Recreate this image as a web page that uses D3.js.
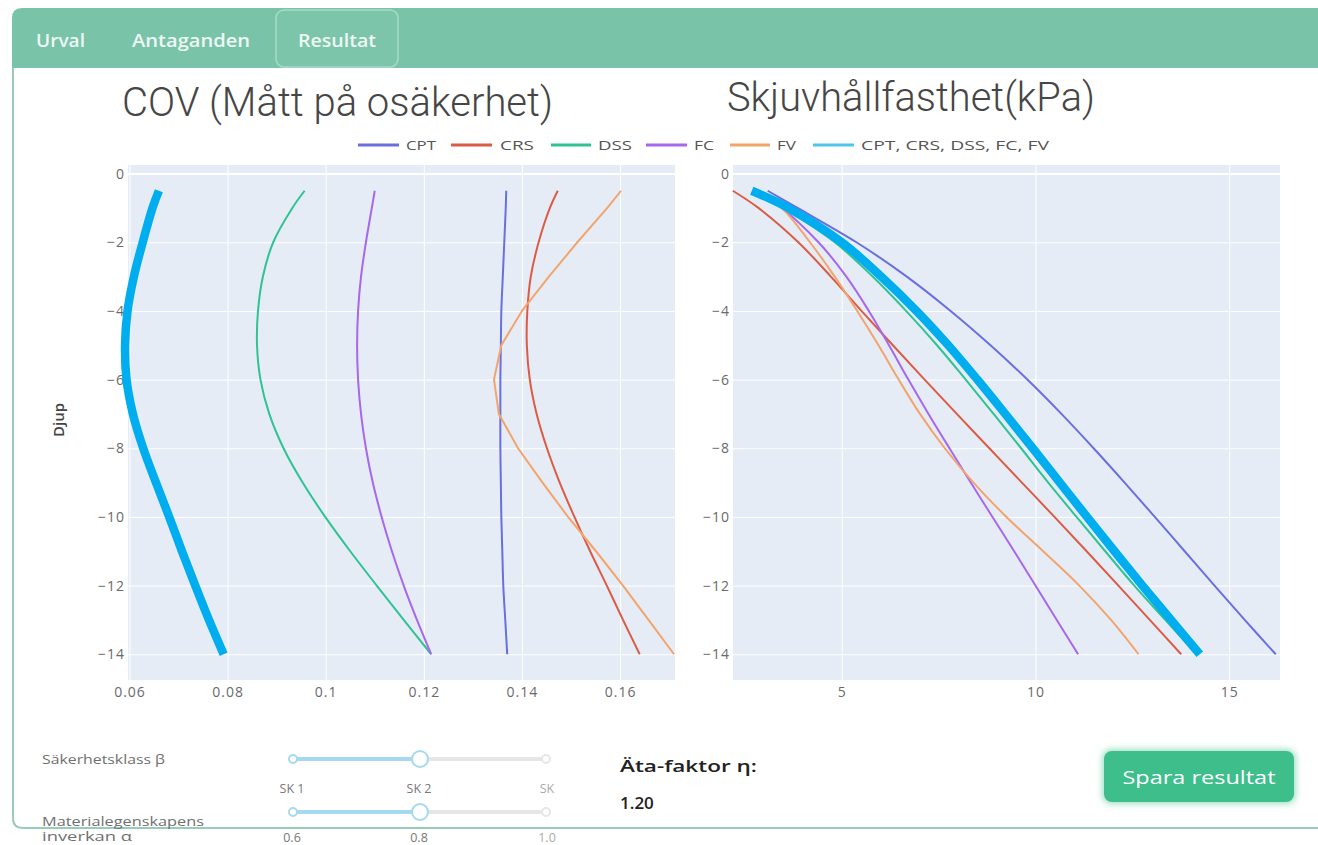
<!DOCTYPE html>
<html>
<head>
<meta charset="utf-8">
<script src="https://cdn.jsdelivr.net/npm/d3@7"></script>
<style>
  html, body { margin: 0; padding: 0; background: #ffffff; }
  svg { display: block; }
</style>
</head>
<body>
<svg id="chart" width="1318" height="845"></svg>
<script>
// ---------------- DATA ----------------
const seriesNames = ["CPT", "CRS", "DSS", "FC", "FV"];
const combinedName = "CPT, CRS, DSS, FC, FV";
const depths = [-0.5, -1, -2, -3, -4, -5, -6, -7, -8, -9, -10, -11, -12, -13, -14];

// COV (Mått på osäkerhet)
const covCPT = [0.1368, 0.1367, 0.1364, 0.1361, 0.1358, 0.1357, 0.1356, 0.1356, 0.1356, 0.1357, 0.1358, 0.1360, 0.1362, 0.1366, 0.1370];
const covCRS = [0.1473, 0.1457, 0.1434, 0.1418, 0.1411, 0.1410, 0.1416, 0.1430, 0.1451, 0.1477, 0.1507, 0.1539, 0.1573, 0.1606, 0.1640];
const covDSS = [0.0957, 0.0932, 0.0893, 0.0872, 0.0862, 0.0860, 0.0867, 0.0885, 0.0914, 0.0953, 0.0999, 0.1050, 0.1104, 0.1159, 0.1215];
const covFC  = [0.1100, 0.1094, 0.1082, 0.1072, 0.1066, 0.1064, 0.1066, 0.1072, 0.1082, 0.1096, 0.1114, 0.1135, 0.1159, 0.1186, 0.1215];
const covFV  = [0.1602, 0.1574, 0.1513, 0.1455, 0.1400, 0.1358, 0.1343, 0.1353, 0.1392, 0.1442, 0.1494, 0.1551, 0.1606, 0.1658, 0.1710];
const covAll = [0.0660, 0.0647, 0.0627, 0.0609, 0.0596, 0.0591, 0.0594, 0.0607, 0.0628, 0.0654, 0.0681, 0.0707, 0.0734, 0.0762, 0.0792];

// Skjuvhållfasthet (kPa)
const suCPT = [3.09, 3.86, 5.38, 6.68, 7.81, 8.84, 9.79, 10.67, 11.50, 12.30, 13.08, 13.85, 14.62, 15.40, 16.20];
const suCRS = [2.19, 2.85, 3.88, 4.72, 5.51, 6.32, 7.14, 7.97, 8.81, 9.65, 10.49, 11.32, 12.14, 12.95, 13.76];
const suDSS = [2.73, 3.50, 4.82, 5.80, 6.66, 7.46, 8.20, 8.92, 9.63, 10.33, 11.06, 11.80, 12.55, 13.35, 14.15];
const suFC  = [2.75, 3.45, 4.40, 5.12, 5.70, 6.22, 6.72, 7.24, 7.78, 8.33, 8.89, 9.45, 10.00, 10.55, 11.10];
const suFV  = [2.75, 3.45, 4.18, 4.82, 5.40, 5.95, 6.47, 7.02, 7.66, 8.40, 9.25, 10.20, 11.13, 11.95, 12.66];
const suAll = [2.68, 3.62, 5.00, 6.02, 6.93, 7.75, 8.50, 9.22, 9.93, 10.63, 11.33, 12.04, 12.76, 13.50, 14.24];

// Ticks
const yTicks = [0, -2, -4, -6, -8, -10, -12, -14];
const covTicks = [0.06, 0.08, 0.1, 0.12, 0.14, 0.16];
const covTickLabels = ["0.06", "0.08", "0.1", "0.12", "0.14", "0.16"];
const suTicks = [5, 10, 15];
const suTickLabels = ["5", "10", "15"];

// UI texts
const tabLabels = ["Urval", "Antaganden", "Resultat"];
const sk1Labels = ["SK 1", "SK 2", "SK"];
const sk2Labels = ["0.6", "0.8", "1.0"];

// ---------------- STYLE ----------------
const colors = { CPT: "#6a6fe0", CRS: "#dc5b45", DSS: "#2fc393", FC: "#a767ee", FV: "#f3a46c" };
const combinedColor = "#00adef";
const combinedLegendColor = "#4cc6ea";
const tickFont = "'Open Sans', 'DejaVu Sans', sans-serif";

const svg = d3.select("#chart");

// ---------------- PAGE FRAME ----------------
svg.append("path")
  .attr("d", "M12,68 L12,18 Q12,8 22,8 L1318,8 L1318,68 Z")
  .attr("fill", "#79c3a9");
svg.append("path")
  .attr("d", "M13,68 L13,818 Q13,828 23,828 L1318,828")
  .attr("fill", "none").attr("stroke", "#9acbb9").attr("stroke-width", 2);
svg.append("rect").attr("x", 276).attr("y", 10).attr("width", 122).attr("height", 57).attr("rx", 8)
  .attr("fill", "#7cc5ab").attr("stroke", "#a8dbc8").attr("stroke-width", 1.5);
const tabX = [36, 132, 298];
const tabW = [49, 118, 78];
tabLabels.forEach((t, i) => {
  svg.append("text").attr("x", tabX[i]).attr("y", 47).text(t)
    .attr("font-family", "'Open Sans', sans-serif").attr("font-weight", 600)
    .attr("font-size", 18).attr("fill", "#eef8f4")
    .attr("textLength", tabW[i]).attr("lengthAdjust", "spacingAndGlyphs");
});

// ---------------- TITLES ----------------
const titleFont = "'Roboto', 'Open Sans', sans-serif";
svg.append("text").attr("x", 122).attr("y", 116).text("COV (Mått på osäkerhet)")
  .attr("font-family", titleFont).attr("font-weight", 300).attr("font-size", 41).attr("fill", "#464646")
  .attr("textLength", 431).attr("lengthAdjust", "spacingAndGlyphs");
svg.append("text").attr("x", 727).attr("y", 111).text("Skjuvhållfasthet(kPa)")
  .attr("font-family", titleFont).attr("font-weight", 300).attr("font-size", 41).attr("fill", "#464646")
  .attr("textLength", 368).attr("lengthAdjust", "spacingAndGlyphs");

// ---------------- LEGEND ----------------
const legendItems = [
  { name: "CPT", color: colors.CPT, x1: 358, x2: 399, tx: 406, tl: 30 },
  { name: "CRS", color: colors.CRS, x1: 451, x2: 492, tx: 500, tl: 34 },
  { name: "DSS", color: colors.DSS, x1: 551, x2: 591, tx: 598, tl: 34 },
  { name: "FC", color: colors.FC, x1: 646, x2: 687, tx: 694, tl: 20 },
  { name: "FV", color: colors.FV, x1: 730, x2: 770, tx: 777, tl: 19 },
  { name: combinedName, color: combinedLegendColor, x1: 813, x2: 854, tx: 861, tl: 188 }
];
legendItems.forEach(it => {
  svg.append("line").attr("x1", it.x1).attr("x2", it.x2).attr("y1", 145).attr("y2", 145)
    .attr("stroke", it.color).attr("stroke-width", 3);
  svg.append("text").attr("x", it.tx).attr("y", 150).text(it.name)
    .attr("font-family", tickFont).attr("font-size", 13.5).attr("fill", "#555")
    .attr("textLength", it.tl).attr("lengthAdjust", "spacingAndGlyphs");
});

// ---------------- SCALES ----------------
const plotTop = 165, plotBottom = 680;
const y = d3.scaleLinear().domain([-14.75, 0.25]).range([plotBottom, plotTop]);
const xL = d3.scaleLinear().domain([0.0597, 0.1712]).range([128, 675]);
const xR = d3.scaleLinear().domain([2.195, 16.31]).range([733, 1280]);

function drawPanel(x, xTicks, xLabels, seriesList, allVals, curveFor) {
  const [x0, x1] = x.range();
  const g = svg.append("g");
  g.append("rect").attr("x", x0).attr("y", plotTop).attr("width", x1 - x0).attr("height", plotBottom - plotTop)
    .attr("fill", "#e5ecf6");
  const gx = d3.axisBottom(x).tickValues(xTicks).tickSize(-(plotBottom - plotTop)).tickFormat("");
  g.append("g").attr("transform", `translate(0,${plotBottom})`).call(gx)
    .call(s => s.select(".domain").remove())
    .call(s => s.selectAll("line").attr("stroke", "#ffffff").attr("stroke-width", 1));
  const gy = d3.axisLeft(y).tickValues(yTicks).tickSize(-(x1 - x0)).tickFormat("");
  g.append("g").attr("transform", `translate(${x0},0)`).call(gy)
    .call(s => s.select(".domain").remove())
    .call(s => s.selectAll("line").attr("stroke", "#ffffff").attr("stroke-width", d => d === 0 ? 2 : 1));
  const lx = d3.axisBottom(x).tickValues(xTicks).tickSize(0).tickPadding(0).tickFormat((d, i) => xLabels[i]);
  g.append("g").attr("transform", `translate(0,${plotBottom + 17})`).call(lx)
    .call(s => s.select(".domain").remove())
    .call(s => s.selectAll("text").attr("font-family", tickFont).attr("font-size", 14)
      .attr("letter-spacing", 1).attr("fill", "#6a6a6a").attr("dy", 0));
  const ly = d3.axisLeft(y).tickValues(yTicks).tickSize(0).tickPadding(3)
    .tickFormat(d => d === 0 ? "0" : "\u2212" + Math.abs(d));
  g.append("g").attr("transform", `translate(${x0},0)`).call(ly)
    .call(s => s.select(".domain").remove())
    .call(s => s.selectAll("text").attr("font-family", tickFont).attr("font-size", 14)
      .attr("letter-spacing", 1).attr("fill", "#6a6a6a"));
  const lg = g.append("g");
  seriesList.forEach(s => {
    const line = d3.line().x(d => x(d)).y((d, i) => y(depths[i])).curve(curveFor(s.name));
    lg.append("path").datum(s.vals).attr("d", line).attr("fill", "none")
      .attr("stroke", colors[s.name]).attr("stroke-width", 2).attr("stroke-linejoin", "round");
  });
  const lineAll = d3.line().x(d => x(d)).y((d, i) => y(depths[i])).curve(d3.curveCatmullRom.alpha(0.5));
  lg.append("path").datum(allVals).attr("d", lineAll).attr("fill", "none")
    .attr("stroke", combinedColor).attr("stroke-width", 8.5).attr("stroke-linecap", "butt")
    .attr("stroke-linejoin", "round");
}

drawPanel(xL, covTicks, covTickLabels,
  [{ name: "CPT", vals: covCPT }, { name: "CRS", vals: covCRS }, { name: "DSS", vals: covDSS },
   { name: "FC", vals: covFC }, { name: "FV", vals: covFV }],
  covAll, n => n === "FV" ? d3.curveLinear : d3.curveCatmullRom.alpha(0.5));

drawPanel(xR, suTicks, suTickLabels,
  [{ name: "CPT", vals: suCPT }, { name: "CRS", vals: suCRS }, { name: "DSS", vals: suDSS },
   { name: "FC", vals: suFC }, { name: "FV", vals: suFV }],
  suAll, n => d3.curveCatmullRom.alpha(0.5));

svg.append("text").attr("transform", "translate(64,420) rotate(-90)").attr("text-anchor", "middle")
  .text("Djup").attr("font-family", tickFont).attr("font-size", 15).attr("font-weight", 600)
  .attr("fill", "#444");

// ---------------- CONTROLS ----------------
const ctrlFont = "'Open Sans', sans-serif";
svg.append("text").attr("x", 42).attr("y", 764).text("Säkerhetsklass β")
  .attr("font-family", ctrlFont).attr("font-size", 12.5).attr("fill", "#6f6f6f")
  .attr("textLength", 123).attr("lengthAdjust", "spacingAndGlyphs");
svg.append("text").attr("x", 42).attr("y", 826).text("Materialegenskapens")
  .attr("font-family", ctrlFont).attr("font-size", 12.5).attr("fill", "#6f6f6f")
  .attr("textLength", 162).attr("lengthAdjust", "spacingAndGlyphs");
svg.append("text").attr("x", 42).attr("y", 841).text("inverkan α")
  .attr("font-family", ctrlFont).attr("font-size", 12).attr("fill", "#6f6f6f")
  .attr("textLength", 90).attr("lengthAdjust", "spacingAndGlyphs");

function slider(yy, labels, labelY) {
  const xs = [293, 420, 546];
  svg.append("line").attr("x1", xs[1]).attr("x2", xs[2]).attr("y1", yy).attr("y2", yy)
    .attr("stroke", "#e4e6e7").attr("stroke-width", 4);
  svg.append("line").attr("x1", xs[0]).attr("x2", xs[1]).attr("y1", yy).attr("y2", yy)
    .attr("stroke", "#a6d8ef").attr("stroke-width", 4);
  svg.append("circle").attr("cx", xs[0]).attr("cy", yy).attr("r", 4).attr("fill", "#fff")
    .attr("stroke", "#a6d8ef").attr("stroke-width", 2);
  svg.append("circle").attr("cx", xs[2]).attr("cy", yy).attr("r", 4).attr("fill", "#fff")
    .attr("stroke", "#e4e6e7").attr("stroke-width", 2);
  svg.append("circle").attr("cx", xs[1]).attr("cy", yy).attr("r", 8).attr("fill", "#fff")
    .attr("stroke", "#a6d8ef").attr("stroke-width", 2);
  const lxs = [292, 419, 547];
  labels.forEach((t, i) => {
    svg.append("text").attr("x", lxs[i]).attr("y", labelY).attr("text-anchor", "middle").text(t)
      .attr("font-family", ctrlFont).attr("font-size", 12.5).attr("fill", i === 2 ? "#aaa" : "#777");
  });
}
slider(759, sk1Labels, 793);
slider(812, sk2Labels, 842);

svg.append("text").attr("x", 620).attr("y", 772).text("Äta-faktor η:")
  .attr("font-family", ctrlFont).attr("font-size", 17).attr("font-weight", 600).attr("fill", "#222")
  .attr("textLength", 137).attr("lengthAdjust", "spacingAndGlyphs");
svg.append("text").attr("x", 620).attr("y", 809).text("1.20")
  .attr("font-family", ctrlFont).attr("font-size", 17).attr("font-weight", 600).attr("fill", "#222");

const defs = svg.append("defs");
const f = defs.append("filter").attr("id", "glow").attr("x", "-20%").attr("y", "-40%").attr("width", "140%").attr("height", "180%");
f.append("feGaussianBlur").attr("stdDeviation", 3);
svg.append("rect").attr("x", 1102).attr("y", 749).attr("width", 194).attr("height", 55).attr("rx", 9)
  .attr("fill", "#9fe0c6").attr("filter", "url(#glow)");
svg.append("rect").attr("x", 1104).attr("y", 751).attr("width", 190).attr("height", 51).attr("rx", 8)
  .attr("fill", "#3dbe8b");
svg.append("text").attr("x", 1199).attr("y", 784).attr("text-anchor", "middle").text("Spara resultat")
  .attr("font-family", ctrlFont).attr("font-size", 19).attr("fill", "#ffffff")
  .attr("textLength", 153).attr("lengthAdjust", "spacingAndGlyphs");
</script>
</body>
</html>
